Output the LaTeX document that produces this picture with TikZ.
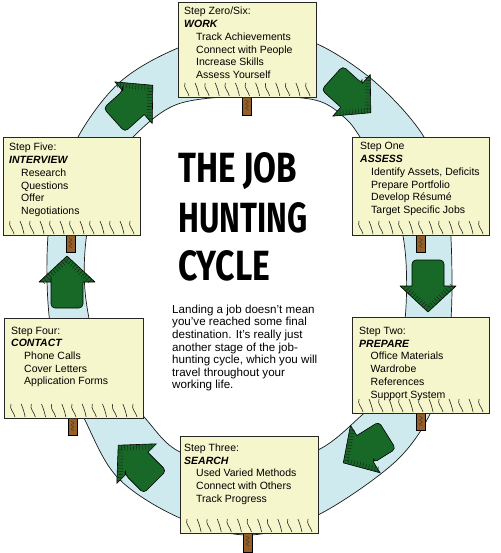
\documentclass[tikz,border=0pt]{standalone}
\usepackage{fontspec}
\setmainfont{Liberation Sans}
\newfontfamily\titlefont{Fira Sans}
\usepackage{graphicx}
\definecolor{cardyellow}{RGB}{246,246,204}
\definecolor{bandblue}{RGB}{206,234,238}
\definecolor{arrowgreen}{RGB}{24,104,40}
\definecolor{postbrown}{RGB}{150,95,40}
\tikzset{
  card/.style={draw=black!85, fill=cardyellow, line width=0.6pt, inner sep=0pt, anchor=north west},
  bandstyle/.style={draw=black!90, fill=bandblue, line width=0.7pt, even odd rule},
  arrowfill/.style={draw=black, fill=arrowgreen, line width=0.6pt, line join=round},
  hatch/.style={draw=black!90, line width=0.35pt},
  grassline/.style={draw=black!85, line width=0.6pt},
  poststyle/.style={draw=black, fill=postbrown, line width=0.6pt, inner sep=0pt, anchor=north, minimum width=9pt},
  postline/.style={draw=black!80, line width=0.4pt},
  txt/.style={inner sep=0pt, anchor=base west, font=\fontsize{10.5pt}{12.7pt}\selectfont},
  head/.style={txt, font=\fontsize{10.5pt}{12.7pt}\selectfont\bfseries\itshape},
  para/.style={inner sep=0pt, anchor=base west, font=\fontsize{11.6pt}{12.6pt}\selectfont},
  ttl/.style={inner sep=0pt, anchor=base west}
}
% name, x, y, angle
\newcommand\greenarrow[4]{%
  \begin{scope}[shift={(#2,#3)},rotate=#4]
    \path[arrowfill] (2,-16) -- (2,-28) -- (28,0) -- (2,28) -- (2,16)
      {[rounded corners=4pt] -- (-24,16) -- (-24,-16) -- (2,-16)} -- cycle;
    \foreach \t in {0.08,0.16,...,0.9} {
      \draw[hatch] ({2+26*\t},{-28+28*\t}) -- ++(-4.0,3.7);
      \draw[hatch] ({28-26*\t},{28*\t}) -- ++(-4.0,-3.7);
    }
    \coordinate (#1) at (0,0);
  \end{scope}}
% left, right, bottom
\newcommand\grass[3]{%
  \pgfmathsetmacro\gsp{(#2-#1-17)/12}%
  \foreach \i in {0,...,12} {
    \pgfmathsetmacro\gx{#1+11+\i*\gsp}
    \pgfmathsetmacro\gb{mod(\i,2)==0 ? 6 : 2}
    \draw[grassline] (\gx,#3-1) .. controls (\gx-1,#3-6) and (\gx-\gb,#3-9) .. (\gx-4,#3-14);
  }}
% name, x, top, bottom
\newcommand\signpost[4]{%
  \node[poststyle, minimum height={(#4-#3)*1pt}] (#1) at (#2,#3) {};
  \draw[postline] (#2-1.5,#3+4) -- (#2+1.5,#3+6) -- (#2-1.5,#3+8) -- (#2+1.5,#3+10) -- (#2-1.5,#3+12) -- (#2+1.5,#3+14);}
\begin{document}
\begin{tikzpicture}[x=1pt,y=-1pt]
\useasboundingbox (0,0) rectangle (500,553);
% ring band
\path[bandstyle]
  plot[smooth cycle, tension=0.55] coordinates {
    (249,28) (315,43) (375,82) (424,137) (447,200) (452,280) (448,350)
    (432,410) (395,462) (318,515) (249,535) (180,518) (118,478) (84,418)
    (55,350) (47,280) (52,205) (78,137) (120,82) (178,48)}
  plot[smooth cycle, tension=0.55] coordinates {
    (249,96) (315,100) (345,118) (362,140) (390,185) (405,250) (405,320)
    (392,385) (362,415) (318,450) (249,470) (180,452) (145,418) (103,365)
    (86,300) (86,240) (100,180) (133,137) (178,104)};
% arrows
\greenarrow{a1}{132}{104}{42}
\greenarrow{a2}{350}{94}{-42}
\greenarrow{a3}{428}{284}{-90}
\greenarrow{a4}{367}{448}{-148}
\greenarrow{a5}{138}{465}{135}
\greenarrow{a6}{67}{284}{90}
% posts
\signpost{p0}{247}{96}{115}
\signpost{p5}{70.5}{234}{252}
\signpost{p1}{421}{234}{252}
\signpost{p4}{72.5}{417}{435}
\signpost{p2}{421}{412}{430}
\signpost{p3}{247.5}{532}{552}
% cards
\node[card, minimum width=138pt, minimum height=95pt] (b0) at (178,2) {};
\node[card, minimum width=137pt, minimum height=98pt] (b5) at (3,137) {};
\node[card, minimum width=137pt, minimum height=98pt] (b1) at (352,137) {};
\node[card, minimum width=139pt, minimum height=100pt] (b4) at (4,318) {};
\node[card, minimum width=137pt, minimum height=96pt] (b2) at (352,317) {};
\node[card, minimum width=138pt, minimum height=97pt] (b3) at (180,436) {};
\grass{178}{316}{97}
\grass{3}{140}{235}
\grass{352}{489}{235}
\grass{4}{143}{418}
\grass{352}{489}{413}
\grass{180}{318}{533}
% card texts
\node[txt] (z0) at (184,15) {Step Zero/Six:};
\node[head] (z1) at (184,27.7) {WORK};
\node[txt] (z2) at (196,40.4) {Track Achievements};
\node[txt] (z3) at (196,53.1) {Connect with People};
\node[txt] (z4) at (196,65.8) {Increase Skills};
\node[txt] (z5) at (196,78.5) {Assess Yourself};

\node[txt] (f0) at (9,151) {Step Five:};
\node[head] (f1) at (9,163.7) {INTERVIEW};
\node[txt] (f2) at (21,176.4) {Research};
\node[txt] (f3) at (21,189.1) {Questions};
\node[txt] (f4) at (21,201.8) {Offer};
\node[txt] (f5) at (21,214.5) {Negotiations};

\node[txt] (o0) at (360,150) {Step One};
\node[head] (o1) at (360,162.7) {ASSESS};
\node[txt] (o2) at (371,175.4) {Identify Assets, Deficits};
\node[txt] (o3) at (371,188.1) {Prepare Portfolio};
\node[txt] (o4) at (371,200.8) {Develop Résumé};
\node[txt] (o5) at (371,213.5) {Target Specific Jobs};

\node[txt] (r0) at (11,334) {Step Four:};
\node[head] (r1) at (11,346.7) {CONTACT};
\node[txt] (r2) at (24,359.4) {Phone Calls};
\node[txt] (r3) at (24,372.1) {Cover Letters};
\node[txt] (r4) at (24,384.8) {Application Forms};

\node[txt] (w0) at (359,334.5) {Step Two:};
\node[head] (w1) at (359,347.2) {PREPARE};
\node[txt] (w2) at (370.5,359.9) {Office Materials};
\node[txt] (w3) at (370.5,372.6) {Wardrobe};
\node[txt] (w4) at (370.5,385.3) {References};
\node[txt] (w5) at (370.5,398) {Support System};

\node[txt] (h0) at (184,451.5) {Step Three:};
\node[head] (h1) at (184,464.2) {SEARCH};
\node[txt] (h2) at (196,476.9) {Used Varied Methods};
\node[txt] (h3) at (196,489.6) {Connect with Others};
\node[txt] (h4) at (196,502.3) {Track Progress};
% title
\node[ttl] (t1) at (178,183) {\resizebox{119pt}{30pt}{\titlefont\bfseries THE JOB}};
\node[ttl] (t2) at (178,232) {\resizebox{129pt}{30pt}{\titlefont\bfseries HUNTING}};
\node[ttl] (t3) at (178,280) {\resizebox{92pt}{30pt}{\titlefont\bfseries CYCLE}};
% paragraph
\node[para] (q1) at (172,313.3) {Landing a job doesn't mean};
\node[para] (q2) at (172,325.9) {you've reached some final};
\node[para] (q3) at (172,338.5) {destination. It's really just};
\node[para] (q4) at (172,351.1) {another stage of the job-};
\node[para] (q5) at (172,363.7) {hunting cycle, which you will};
\node[para] (q6) at (172,376.3) {travel throughout your};
\node[para] (q7) at (172,388.9) {working life.};
\end{tikzpicture}
\end{document}
